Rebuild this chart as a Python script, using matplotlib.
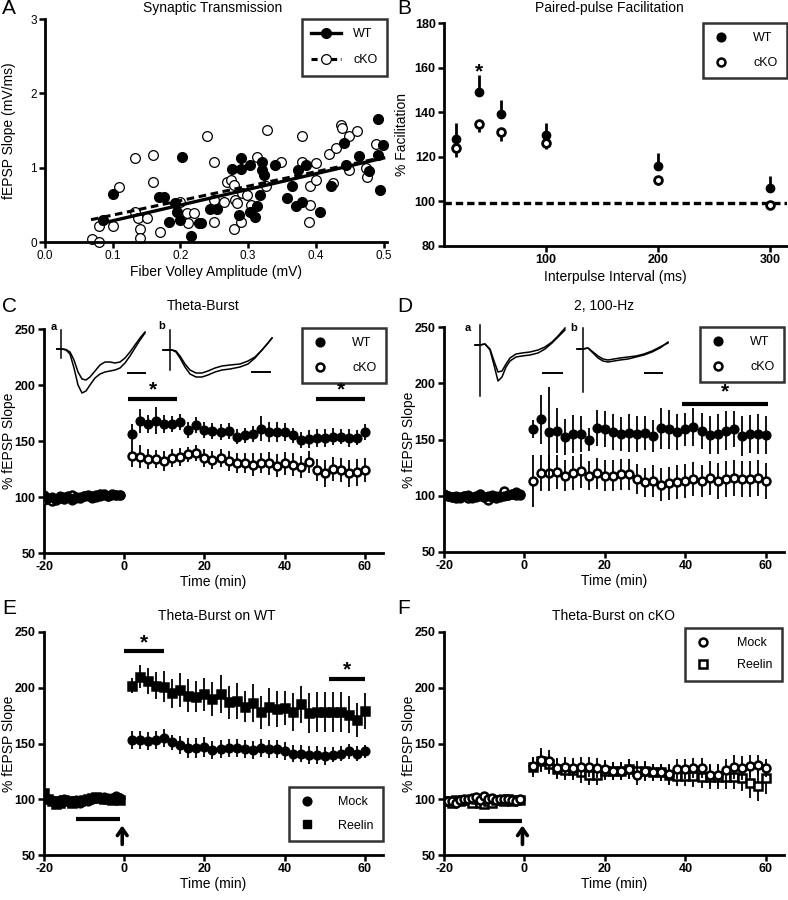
import numpy as np
import matplotlib
matplotlib.use("Agg")
import matplotlib.pyplot as plt
from matplotlib.lines import Line2D
from matplotlib.font_manager import FontProperties

plt.rcParams['font.family'] = ['Liberation Sans', 'DejaVu Sans']

# ---------------- data ----------------
# A: synaptic transmission (fiber volley mV, fEPSP slope mV/ms)
wt_fv = [0.086, 0.101, 0.202, 0.168, 0.175, 0.183, 0.192, 0.195, 0.200, 0.216, 0.227, 0.231,
         0.244, 0.254, 0.276, 0.289, 0.286, 0.302, 0.303, 0.310, 0.313, 0.317, 0.320, 0.320,
         0.323, 0.340, 0.357, 0.365, 0.370, 0.374, 0.380, 0.385, 0.406, 0.423, 0.442, 0.445,
         0.464, 0.478, 0.491, 0.491, 0.494, 0.4995, 0.289]
wt_slope = [0.30, 0.64, 1.15, 0.61, 0.60, 0.27, 0.52, 0.41, 0.30, 0.08, 0.26, 0.26,
            0.44, 0.44, 0.98, 0.98, 0.36, 1.04, 0.41, 0.34, 0.48, 0.63, 1.08, 0.97,
            0.90, 1.04, 0.59, 0.75, 0.48, 0.97, 0.54, 1.03, 0.41, 0.76, 1.33, 1.04,
            1.16, 0.95, 1.65, 1.17, 0.70, 1.31, 1.13]
ko_fv = [0.069, 0.079, 0.079, 0.100, 0.110, 0.133, 0.133, 0.138, 0.141, 0.141, 0.151, 0.159,
         0.160, 0.170, 0.200, 0.210, 0.211, 0.220, 0.239, 0.249, 0.249, 0.249, 0.264, 0.269,
         0.274, 0.279, 0.279, 0.281, 0.284, 0.289, 0.291, 0.299, 0.304, 0.313, 0.328, 0.326,
         0.348, 0.380, 0.380, 0.390, 0.392, 0.392, 0.400, 0.400, 0.419, 0.426, 0.429, 0.437,
         0.439, 0.449, 0.449, 0.460, 0.474, 0.476, 0.489]
ko_slope = [0.04, 0.00, 0.21, 0.22, 0.74, 1.13, 0.41, 0.32, 0.17, 0.06, 0.32, 1.17,
            0.81, 0.14, 0.54, 0.39, 0.25, 0.39, 1.42, 1.08, 0.27, 0.57, 0.54, 0.81,
            0.83, 0.77, 0.17, 0.57, 0.52, 0.27, 0.66, 0.63, 0.50, 1.15, 1.51, 0.75,
            1.08, 1.42, 1.07, 0.27, 0.75, 0.50, 1.06, 0.84, 1.19, 0.79, 1.26, 1.58,
            1.53, 1.42, 0.97, 1.49, 0.99, 0.88, 1.32]
wt_fit_x = [0.083, 0.5]
wt_fit_y = [0.25, 1.13]
ko_fit_x = [0.068, 0.5]
ko_fit_y = [0.30, 1.14]

# B: paired-pulse facilitation
ppf_ms = [20, 40, 60, 100, 200, 300]
ppf_wt = [128, 149, 139, 130, 116, 106]
ppf_wt_err = [7, 7.5, 6.3, 5.3, 5.8, 5.2]
ppf_ko = [124, 134.5, 131, 126, 109.5, 98.5]
ppf_ko_err = [4.2, 3.4, 3.7, 2.5, 2, 1.5]

# time axes (min)
t_base = list(range(-20, 0))
t_post = list(range(2, 62, 2))
time_ticks = [-20, 0, 20, 40, 60]
time_labels = ['-20', '0', '20', '40', '60']
slope_ticks = [50, 100, 150, 200, 250]

# C: theta-burst WT vs cKO
c_wt_base = [102, 99, 100, 98, 101, 100, 100, 97, 99, 100, 101, 101, 99, 100, 101, 102, 101, 102, 102, 102]
c_ko_base = [97, 98, 96, 97, 99, 98, 101, 102, 100, 99, 101, 102, 101, 102, 103, 103, 101, 103, 102, 102]
c_wt = [156, 168, 165, 168, 165, 165, 167, 160, 164, 160, 159, 158, 159, 154, 155, 156, 161, 158, 158, 158,
        155, 151, 152, 153, 153, 154, 154, 153, 153, 158]
c_wt_err = [9, 11, 8, 12, 8, 7, 7, 7, 7, 7, 7, 7, 7, 7, 7, 7, 11, 9, 9, 8, 7, 7, 8, 8, 8, 8, 7, 8, 7, 7]
c_ko = [137, 136, 134, 134, 132, 135, 136, 138, 139, 135, 133, 135, 132, 130, 130, 129, 130, 130, 128, 130,
        129, 127, 131, 124, 121, 125, 124, 121, 122, 124]
c_ko_err = [10, 10, 9, 8, 9, 8, 8, 7, 7, 8, 8, 8, 9, 9, 9, 10, 9, 10, 10, 10, 10, 10, 10, 10, 12, 11, 11, 12, 12, 11]

# D: 2 x 100-Hz WT vs cKO
d_wt_base = [101, 100, 99, 100, 98, 100, 101, 98, 99, 100, 99, 100, 101, 100, 99, 100, 101, 102, 103, 102]
d_ko_base = [102, 100, 99, 98, 99, 100, 98, 99, 100, 102, 99, 96, 99, 98, 100, 104, 101, 102, 101, 101]
d_wt = [159, 168, 157, 158, 152, 155, 155, 150, 160, 159, 157, 155, 156, 155, 156, 153, 160, 159, 157, 159,
        161, 158, 154, 155, 158, 159, 153, 155, 155, 154]
d_wt_err = [8, 22, 40, 20, 16, 17, 16, 10, 16, 16, 16, 15, 17, 16, 15, 14, 18, 17, 16, 15, 17, 16, 17, 18,
            17, 16, 18, 17, 18, 17]
d_ko = [113, 120, 120, 121, 118, 120, 122, 118, 120, 118, 118, 119, 119, 115, 112, 113, 110, 111, 112, 113,
        115, 113, 116, 113, 115, 116, 115, 115, 116, 113]
d_ko_err = [23, 16, 16, 15, 14, 15, 15, 13, 14, 14, 14, 14, 14, 13, 13, 14, 15, 15, 15, 15, 15, 14, 15, 16,
            16, 16, 16, 16, 16, 16]

# E: theta-burst on WT, mock vs reelin
e_mock_base = [104, 100, 99, 98, 99, 100, 98, 98, 99, 97, 99, 98, 100, 101, 101, 102, 101, 100, 103, 101]
e_reln_base = [106, 100, 98, 96, 97, 99, 98, 97, 98, 98, 99, 100, 101, 102, 101, 100, 100, 99, 101, 99]
e_mock = [153, 153, 152, 153, 155, 151, 149, 146, 146, 147, 144, 145, 146, 146, 145, 144, 146, 145, 145, 143,
          141, 141, 140, 140, 139, 140, 141, 143, 141, 143]
e_mock_err = [8, 8, 8, 8, 8, 7, 8, 9, 9, 9, 8, 8, 8, 8, 8, 8, 8, 8, 8, 8, 8, 8, 8, 8, 8, 7, 7, 7, 7, 6]
e_reln = [202, 210, 206, 202, 201, 195, 198, 193, 192, 194, 190, 194, 187, 188, 183, 186, 178, 183, 181, 182,
          178, 185, 177, 178, 178, 178, 178, 176, 171, 179]
e_reln_err = [7, 10, 12, 12, 14, 13, 15, 15, 14, 15, 15, 17, 15, 16, 14, 17, 15, 17, 16, 15, 17, 17, 18, 18,
              18, 18, 18, 17, 15, 16]

# F: theta-burst on cKO, mock vs reelin
f_mock_base = [98, 98, 98, 97, 99, 100, 100, 101, 102, 99, 103, 100, 101, 99, 100, 100, 100, 99, 98, 100]
f_reln_base = [98, 98, 97, 99, 98, 99, 99, 97, 100, 97, 96, 98, 97, 99, 99, 98, 100, 98, 99, 99]
f_mock = [130, 135, 134, 128, 129, 128, 129, 129, 128, 127, 125, 125, 127, 122, 125, 124, 124, 123, 127, 127,
          128, 128, 122, 122, 126, 129, 128, 130, 131, 128]
f_mock_err = [8, 11, 10, 9, 9, 9, 9, 9, 9, 8, 8, 8, 9, 9, 9, 8, 8, 9, 9, 9, 9, 9, 10, 10, 10, 11, 11, 10, 9, 8]
f_reln = [129, 134, 132, 127, 126, 126, 124, 122, 122, 125, 125, 125, 127, 125, 125, 124, 124, 122, 121, 121,
          121, 120, 120, 120, 120, 120, 119, 115, 112, 119]
f_reln_err = [9, 9, 9, 9, 9, 9, 9, 9, 9, 8, 8, 8, 9, 9, 8, 8, 8, 9, 9, 9, 10, 10, 11, 11, 11, 11, 12, 14, 14, 14]

# example fEPSP traces (a.u.: sample index, scaled mV), pairs = baseline/post
trc_ca_t = [7, 12, 16, 20, 24, 28, 32, 36, 40, 45, 50, 55, 60, 65, 70, 75, 80, 85, 90, 95]
trc_ca_1 = [0, 0, -0.5, -3, -11, -23, -30, -31, -28, -22, -16, -13, -13, -14, -13, -9, -3, 4, 11, 17]
trc_ca_2 = [0, 0, -1, -5, -19, -36, -44, -42, -36, -29, -25, -23, -22, -21, -19, -14, -7, 1, 9, 16]
trc_cb_t = [8, 17, 21, 25, 30, 35, 41, 47, 53, 60, 67, 75, 85, 93, 100, 107, 113, 117]
trc_cb_1 = [0, 0, -1, -6, -14, -20, -23, -23, -21, -18, -16, -15, -14, -11, -7, 0, 7, 12]
trc_cb_2 = [0, 0, -2, -8, -17, -24, -27, -27, -25, -22, -20, -19, -17, -14, -8, 0, 7, 12]
trc_da_t = [10, 15, 20, 25, 29, 33, 37, 41, 45, 51, 57, 65, 73, 80, 87, 93, 100]
trc_da_1 = [0, 0, 1, -4, -16, -27, -26, -19, -13, -9, -8, -7, -5, -2, 3, 9, 17]
trc_da_2 = [0, 0, 1, -5, -20, -36, -32, -22, -16, -12, -11, -10, -8, -4, 2, 8, 15]
trc_db_t = [7, 13, 18, 23, 28, 33, 38, 44, 50, 58, 66, 74, 82, 90, 98]
trc_db_1 = [0, 0, 1, -3, -7, -10, -11, -10, -9, -8, -7, -5, -2, 2, 6]
trc_db_2 = [0, 0, 1, -4, -9, -12, -13, -12, -11, -10, -8, -6, -3, 1, 7]

# ---------------- figure ----------------
W, H = 788, 900
fig = plt.figure(figsize=(W / 100, H / 100), dpi=100)


def box(x0, y0, x1, y1):
    return [x0 / W, 1 - y1 / H, (x1 - x0) / W, (y1 - y0) / H]


def px(x, y):
    return x / W, 1 - y / H


tick_fp = FontProperties(family=['Liberation Sans Narrow', 'Liberation Sans'], weight='bold', size=9)


def style(ax, xt, xl, yt, yl, bold=True, ylab_x=-0.085):
    for s in ['top', 'right']:
        ax.spines[s].set_visible(False)
    for s in ['left', 'bottom']:
        ax.spines[s].set_linewidth(2.0)
    ax.tick_params(direction='out', length=4, width=1.8, labelsize=8.5, pad=2)
    fp = tick_fp if bold else FontProperties(family='Liberation Sans', size=8.5)
    ax.set_xticks(xt)
    ax.set_xticklabels(xl, fontproperties=fp)
    ax.set_yticks(yt)
    ax.set_yticklabels(yl, fontproperties=fp)
    ax.yaxis.set_label_coords(ylab_x, 0.5)


def legbox(ax, handles, labels, corner, **kw):
    opts = dict(frameon=True, fancybox=False, edgecolor='black', fontsize=9, borderpad=0.75,
                labelspacing=1.0, handletextpad=1.3, borderaxespad=0, handlelength=1.4)
    opts.update(kw)
    lg = ax.legend(handles, labels, loc='upper right', bbox_to_anchor=px(*corner),
                   bbox_transform=fig.transFigure, **opts)
    lg.get_frame().set_linewidth(1.8)
    return lg


ms = 6.3
mk_f = dict(color='black', mfc='black', mec='black', ms=ms, ls='none')
mk_o = dict(color='black', mfc='white', mec='black', ms=ms - 0.6, mew=1.8, ls='none')

# ---- A ----
axA = fig.add_axes(box(45, 19, 387, 242))
axA.plot(wt_fit_x, wt_fit_y, color='black', lw=2.4, zorder=3)
axA.plot(ko_fit_x, ko_fit_y, color='black', lw=2.2, ls=(0, (2.5, 1.5)), zorder=3)
axA.plot(ko_fv, ko_slope, 'o', mfc='white', mec='black', ms=7, mew=0.9, clip_on=False, zorder=2)
axA.plot(wt_fv, wt_slope, 'o', color='black', ms=7, clip_on=False, zorder=4)
axA.set_xlim(0, 0.505)
axA.set_ylim(0, 3)
style(axA, [0, 0.1, 0.2, 0.3, 0.4, 0.5], ['0.0', '0.1', '0.2', '0.3', '0.4', '0.5'],
      [0, 1, 2, 3], ['0', '1', '2', '3'], bold=False, ylab_x=-0.085)
axA.set_xlabel('Fiber Volley Amplitude (mV)', fontsize=10, labelpad=2)
axA.set_ylabel('fEPSP Slope (mV/ms)', fontsize=10)
legbox(axA, [Line2D([], [], color='black', lw=2.4, marker='o', ms=7),
             Line2D([], [], color='black', lw=2.2, ls=(0, (2, 1.2)), marker='o', mfc='white', ms=7, mew=0.9)],
       ['WT', 'cKO'], (387, 19), handlelength=2.4, handletextpad=1.0, labelspacing=1.1)

# ---- B ----
axB = fig.add_axes(box(444, 23, 787, 246))
axB.axhline(99.3, color='black', lw=2.4, ls=(0, (2.2, 1.2)), zorder=1)
axB.errorbar(ppf_ms, ppf_wt, yerr=[np.zeros(6), ppf_wt_err], fmt='o', color='black', ms=6,
             elinewidth=2, capsize=0, zorder=3)
axB.errorbar(ppf_ms, ppf_ko, yerr=[ppf_ko_err, np.zeros(6)], fmt='o', color='black', mfc='white',
             mec='black', ms=5.6, mew=2, elinewidth=2, capsize=0, zorder=4)
axB.set_xlim(9, 315)
axB.set_ylim(80, 180)
style(axB, [100, 200, 300], ['100', '200', '300'],
      list(range(80, 181, 20)), [str(v) for v in range(80, 181, 20)], ylab_x=-0.102)
axB.set_xlabel('Interpulse Interval (ms)', fontsize=10, labelpad=3)
axB.set_ylabel('% Facilitation', fontsize=10)
axB.text(40, 158, '*', fontsize=15, fontweight='bold', ha='center', va='center')
legbox(axB, [Line2D([], [], marker='o', **mk_f), Line2D([], [], marker='o', **mk_o)],
       ['WT', 'cKO'], (787, 23), handletextpad=1.9)


def timecourse(ax, base1, base2, post1, err1, post2, err2, m1, m2, open1=False):
    st1 = mk_o if open1 else mk_f
    ax.errorbar(t_base, base2, yerr=1.5, fmt=m2, elinewidth=1.2, capsize=0, zorder=3, **mk_o)
    ax.errorbar(t_base, base1, yerr=1.5, fmt=m1, elinewidth=1.2, capsize=0, zorder=4, **st1)
    ax.errorbar(t_post, post1, yerr=err1, fmt=m1, elinewidth=1.3, capsize=0, zorder=4, **st1)
    ax.errorbar(t_post, post2, yerr=err2, fmt=m2, elinewidth=1.3, capsize=0, zorder=3, **mk_o)
    ax.set_xlim(-20, 64.5)
    ax.set_ylim(50, 250)
    style(ax, time_ticks, time_labels, slope_ticks, [str(v) for v in slope_ticks], ylab_x=-0.083)
    ax.set_xlabel('Time (min)', fontsize=10, labelpad=1)
    ax.set_ylabel('% fEPSP Slope', fontsize=10)


def sigbar(ax, x0, x1, y, ystar):
    ax.plot([x0, x1], [y, y], color='black', lw=3, solid_capstyle='butt', clip_on=False)
    ax.text((x0 + x1) / 2, ystar, '*', fontsize=15, fontweight='bold', ha='center', va='center')


def traces(rect, t, v1, v2, stim, bar, label, lpos, ylim):
    ia = fig.add_axes(box(*rect))
    ia.plot(t, v1, color='black', lw=1.1)
    ia.plot(t, v2, color='black', lw=1.1)
    ia.plot([stim[0], stim[0]], [stim[1], stim[2]], color='black', lw=1.1)
    ia.plot([stim[0] - 4, stim[0]], [0, 0], color='black', lw=1.1)
    ia.plot(bar[:2], [bar[2], bar[2]], color='black', lw=1.4)
    ia.text(lpos[0], lpos[1], label, fontsize=8, fontweight='bold', ha='center', va='center')
    ia.set_xlim(0, rect[2] - rect[0])
    ia.set_ylim(*ylim)
    ia.axis('off')


# ---- C ----
axC = fig.add_axes(box(44, 329, 383, 553))
timecourse(axC, c_wt_base, c_ko_base, c_wt, c_wt_err, c_ko, c_ko_err, 'o', 'o')
sigbar(axC, 1, 13.2, 187.5, 196)
sigbar(axC, 47.7, 60.1, 187.5, 196)
legbox(axC, [Line2D([], [], marker='o', **mk_f), Line2D([], [], marker='o', **mk_o)],
       ['WT', 'cKO'], (386, 328), handletextpad=1.9)
traces((50, 320, 150, 400), trc_ca_t, trc_ca_1, trc_ca_2, (11, 19, -9), (78, 95, -24), 'a', (4, 22), (-51, 29))
traces((155, 320, 275, 400), trc_cb_t, trc_cb_1, trc_cb_2, (15, 20, -20), (97, 115, -22), 'b', (7, 24), (-50, 30))

# ---- D ----
axD = fig.add_axes(box(444, 327, 784, 552))
timecourse(axD, d_wt_base, d_ko_base, d_wt, d_wt_err, d_ko, d_ko_err, 'o', 'o')
sigbar(axD, 39.1, 60.5, 182, 192)
legbox(axD, [Line2D([], [], marker='o', **mk_f), Line2D([], [], marker='o', **mk_o)],
       ['WT', 'cKO'], (784, 327), handletextpad=1.9)
traces((465, 320, 570, 400), trc_da_t, trc_da_1, trc_da_2, (15, 20, -51), (78, 97, -28), 'a', (3, 17), (-55, 25))
traces((570, 320, 675, 400), trc_db_t, trc_db_1, trc_db_2, (13, 21, -43), (75, 92, -24), 'b', (4, 21), (-51, 29))

# ---- E ----
axE = fig.add_axes(box(44, 632, 383, 855))
timecourse(axE, e_mock_base, e_reln_base, e_mock, e_mock_err, e_reln, e_reln_err, 'o', 's')
# reelin squares are filled in E
for ln in axE.lines:
    if ln.get_marker() == 's':
        ln.set_markerfacecolor('black')
sigbar(axE, 0, 9.8, 233, 240)
sigbar(axE, 51, 60, 208, 216)
axE.plot([-12, -1], [82.5, 82.5], color='black', lw=3, solid_capstyle='butt')
axE.annotate('', xy=(-0.5, 79), xytext=(-0.5, 57),
             arrowprops=dict(arrowstyle='->,head_length=0.5,head_width=0.35', lw=2.6, color='black'))
legbox(axE, [Line2D([], [], marker='o', **mk_f), Line2D([], [], marker='s', **mk_f)],
       ['Mock', 'Reelin'], (383, 787), labelspacing=0.9, handletextpad=1.8)

# ---- F ----
axF = fig.add_axes(box(444, 632, 784, 855))
timecourse(axF, f_mock_base, f_reln_base, f_mock, f_mock_err, f_reln, f_reln_err, 'o', 's', open1=True)
axF.plot([-11.3, -0.5], [80.7, 80.7], color='black', lw=3, solid_capstyle='butt')
axF.annotate('', xy=(-0.5, 79), xytext=(-0.5, 57),
             arrowprops=dict(arrowstyle='->,head_length=0.5,head_width=0.35', lw=2.6, color='black'))
legbox(axF, [Line2D([], [], marker='o', **mk_o), Line2D([], [], marker='s', **mk_o)],
       ['Mock', 'Reelin'], (782, 628), labelspacing=0.8, handletextpad=2.0)

# ---- titles and panel letters ----
titles = [('Synaptic Transmission', 213, 8), ('Paired-pulse Facilitation', 609, 8),
          ('Theta-Burst', 203, 306), ('2, 100-Hz', 604, 306),
          ('Theta-Burst on WT', 217, 616), ('Theta-Burst on cKO', 614, 616)]
for txt, x, y in titles:
    fig.text(*px(x, y), txt, fontsize=10, ha='center', va='center')
letters = [('A', 2, 9), ('B', 397, 9), ('C', 2, 306), ('D', 397, 306), ('E', 2, 608), ('F', 397, 608)]
for txt, x, y in letters:
    fig.text(*px(x, y), txt, fontsize=15, ha='left', va='center')

fig.savefig('out.png', dpi=100)
